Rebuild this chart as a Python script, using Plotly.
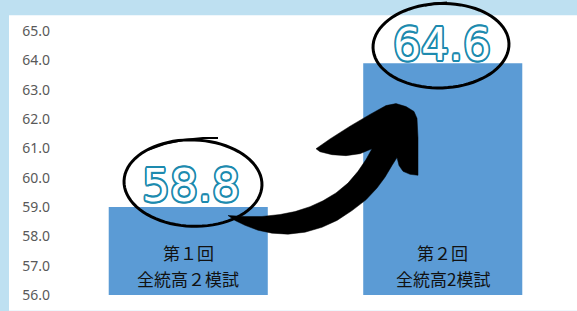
import math
import plotly.graph_objects as go

# ---- data ----
categories = ["第１回 全統高２模試", "第２回 全統高2模試"]
label_line1 = ["第１回", "第２回"]
label_line2 = ["全統高２模試", "全統高2模試"]
bar_values = [59.0, 63.9]
callout_labels = ["58.8", "64.6"]
y_ticks = [56.0, 57.0, 58.0, 59.0, 60.0, 61.0, 62.0, 63.0, 64.0, 65.0]

W, H = 577, 311
L, R, T, B = 61, 570, 31, 300


def px(x):
    return (x - L) / (R - L)


def py(y):
    return (B - y) / (B - T)


def path_from(points, close=True):
    s = "M " + " L ".join(f"{px(x):.5f},{py(y):.5f}" for x, y in points)
    return s + (" Z" if close else "")


def ellipse_path(cx, cy, rx, ry, rot_deg, n=80):
    a = math.radians(rot_deg)
    pts = []
    for i in range(n):
        t = 2 * math.pi * i / n
        ex, ey = rx * math.cos(t), ry * math.sin(t)
        pts.append((cx + ex * math.cos(a) - ey * math.sin(a),
                    cy + ex * math.sin(a) + ey * math.cos(a)))
    return path_from(pts)


fig = go.Figure()
fig.add_trace(go.Bar(
    x=categories, y=bar_values, marker=dict(color="#5B9BD5", line=dict(width=0)),
    hoverinfo="skip", showlegend=False,
))

shapes = [
    # white panel over light blue frame
    dict(type="rect", xref="paper", yref="paper", x0=px(9), x1=px(W + 5),
         y0=py(H + 5), y1=py(15), fillcolor="white", line=dict(width=0), layer="below"),
]

# arrow
arrow_pts = [
    (228, 219), (245, 220), (262, 220), (280, 218), (295, 215), (310, 210), (323, 204),
    (336, 196), (348, 186), (358, 174), (366, 162), (372, 151),
    (360, 156), (346, 158), (332, 157), (320, 154), (316, 151),
    (330, 141), (350, 128), (370, 116), (386, 107), (396, 105), (406, 108), (414, 113),
    (417, 120), (418, 140), (418, 160), (418, 178), (410, 177), (403, 174), (399, 168), (397, 160),
    (392, 168), (385, 180), (377, 191), (366, 203), (352, 214), (337, 224), (322, 231),
    (305, 236), (288, 238), (272, 237), (258, 234), (245, 229), (235, 224),
]
shapes.append(dict(type="path", xref="paper", yref="paper", path=path_from(arrow_pts),
                   fillcolor="black", line=dict(color="black", width=0.5), layer="above"))

# hand drawn ellipses
shapes.append(dict(type="path", xref="paper", yref="paper",
                   path=ellipse_path(193, 186, 69, 44, 2),
                   line=dict(color="black", width=3), fillcolor="rgba(0,0,0,0)", layer="above"))
shapes.append(dict(type="path", xref="paper", yref="paper",
                   path=path_from([(148, 152), (165, 146), (183, 142), (203, 140), (218, 140)], close=False),
                   line=dict(color="black", width=2), fillcolor="rgba(0,0,0,0)", layer="above"))
shapes.append(dict(type="path", xref="paper", yref="paper",
                   path=ellipse_path(441, 46, 68, 43, -2),
                   line=dict(color="black", width=3), fillcolor="rgba(0,0,0,0)", layer="above"))
shapes.append(dict(type="path", xref="paper", yref="paper",
                   path=path_from([(425, 5), (435, 3), (447, 2)], close=False),
                   line=dict(color="black", width=2), fillcolor="rgba(0,0,0,0)", layer="above"))

teal = "#1D8AAE"
offs = []
for k in range(12):
    ang = 2 * math.pi * k / 12
    offs.append((round(1.8 * math.cos(ang), 2), round(1.8 * math.sin(ang), 2)))
outline = ", ".join(f"{dx}px {dy}px 0 {teal}" for dx, dy in offs)

annotations = []
callout_pos = [(191, 188), (442, 45)]
for lab, (cx, cy) in zip(callout_labels, callout_pos):
    annotations.append(dict(
        text=lab, xref="paper", yref="paper", x=px(cx), y=py(cy),
        xanchor="center", yanchor="middle", showarrow=False,
        font=dict(family="DejaVu Sans", size=44, color="white", shadow=outline),
    ))

for i, cat in enumerate(categories):
    annotations.append(dict(
        text=label_line1[i], x=cat, y=56.0, xref="x", yref="y", yshift=43,
        xanchor="center", yanchor="middle", showarrow=False,
        font=dict(family="Noto Sans CJK JP", size=17, color="#111111"),
    ))
    annotations.append(dict(
        text=label_line2[i], x=cat, y=56.0, xref="x", yref="y", yshift=17,
        xanchor="center", yanchor="middle", showarrow=False,
        font=dict(family="Noto Sans CJK JP", size=17, color="#111111"),
    ))

fig.update_layout(
    width=W, height=H,
    margin=dict(l=L, r=W - R, t=T, b=H - B, pad=0),
    paper_bgcolor="#BEE0F1",
    plot_bgcolor="white",
    bargap=0.375,
    shapes=shapes,
    annotations=annotations,
    xaxis=dict(showticklabels=False, showgrid=False, zeroline=False, showline=False, ticks=""),
    yaxis=dict(range=[56, 65], tickvals=y_ticks, tickformat=".1f", showgrid=False,
               zeroline=False, showline=False, ticks="", ticklabelstandoff=10,
               tickfont=dict(family="Noto Sans", size=14, color="#595959")),
)

fig.write_html(
    "out.html",
    config={"displayModeBar": False, "staticPlot": True},
    post_script="document.body.style.margin='0';document.body.style.overflow='hidden';",
)
